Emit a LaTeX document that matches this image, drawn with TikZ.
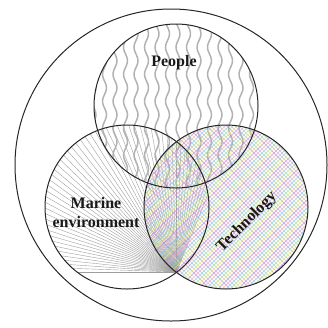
\documentclass[tikz,border=0pt]{standalone}
\usepackage{fontspec}
\setmainfont{Liberation Serif}
\usetikzlibrary{calc}
\definecolor{plaid0}{RGB}{236,160,200}
\definecolor{plaid1}{RGB}{140,190,235}
\definecolor{plaid2}{RGB}{160,215,160}
\definecolor{plaid3}{RGB}{232,225,130}
\definecolor{plaid4}{RGB}{175,140,210}
\tikzset{
  ring/.style={draw=black!85, line width=1pt},
  wave/.style={gray!60, line width=1.5pt},
  ray/.style={gray!75, line width=0.4pt},
  label/.style={font=\fontsize{16}{19}\selectfont\bfseries, text=black!90, align=center}
}
\begin{document}
\begin{tikzpicture}[x=1pt,y=-1pt]
\useasboundingbox (0,0) rectangle (328,327);
\coordinate (wc) at (171,165);
\coordinate (pc) at (176,106);
\coordinate (mc) at (127,207);
\coordinate (tc) at (226,207);
\coordinate (f) at (176.5,272);
\begin{scope}
\clip (mc) circle[radius=82];
\foreach \a in {180,182,...,292}
  \draw[ray] (f) -- ++(\a:240);
\end{scope}
\begin{scope}
\clip (pc) circle[radius=82];
\foreach \x in {94,104.5,...,264}
  \draw[wave] plot[variable=\t, domain=20:192, samples=70, smooth] ({\x+2*sin(\t*13.33)},\t);
\end{scope}
\begin{scope}
\clip (tc) circle[radius=82];
\foreach \k [count=\i] in {-170,-166,...,170} {
  \pgfmathtruncatemacro\m{mod(\i,5)}
  \pgfmathtruncatemacro\n{mod(\i+2,5)}
  \draw[plaid\m, line width=0.9pt, opacity=0.6] ($(tc)+(\k,0)+(-110,-110)$) -- ($(tc)+(\k,0)+(110,110)$);
  \draw[plaid\n, line width=0.9pt, opacity=0.6] ($(tc)+(\k,0)+(-110,110)$) -- ($(tc)+(\k,0)+(110,-110)$);
}
\end{scope}
\draw[ring] (wc) circle[radius=156];
\draw[ring] (pc) circle[radius=82];
\draw[ring] (mc) circle[radius=82];
\draw[ring] (tc) circle[radius=82];
\node[label] (pe) at (174,63) {People};
\node[label] (ma) at (96,213) {Marine\\environment};
\node[label, rotate=45] (te) at (247,222) {Technology};
\end{tikzpicture}
\end{document}
